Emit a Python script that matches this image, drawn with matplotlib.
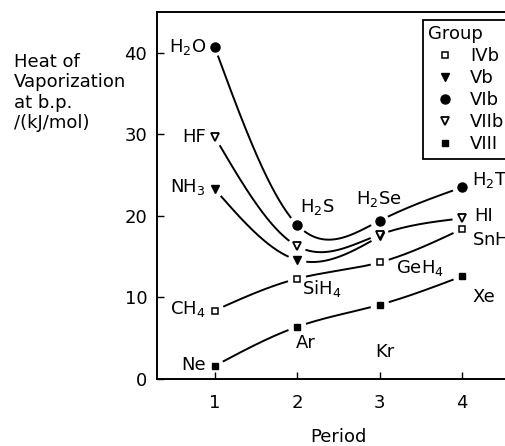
import matplotlib.pyplot as plt
import numpy as np

period = [1, 2, 3, 4]
ivb = [8.4, 12.3, 14.3, 18.4]      # CH4 SiH4 GeH4 SnH4
vb = [23.3, 14.6, 17.5]            # NH3 PH3 AsH3
vib = [40.7, 18.9, 19.4, 23.5]     # H2O H2S H2Se H2Te
viib = [29.7, 16.3, 17.7, 19.7]    # HF HCl HBr HI
viii = [1.6, 6.4, 9.1, 12.6]       # Ne Ar Kr Xe

group_names = ["IVb", "Vb", "VIb", "VIIb", "VIII"]
yticks = [0, 10, 20, 30, 40]

# compound labels: text, period, value, pixel offset, alignment
labels = [
    ("H$_2$O", 1, vib[0], -8, 0, "right", "center"),
    ("HF", 1, viib[0], -9, 0, "right", "center"),
    ("NH$_3$", 1, vb[0], -9, 2, "right", "center"),
    ("CH$_4$", 1, ivb[0], -9, 2, "right", "center"),
    ("Ne", 1, viii[0], -9, 1, "right", "center"),
    ("H$_2$S", 2, vib[1], 3, 13, "left", "baseline"),
    ("SiH$_4$", 2, ivb[1], 5, -15, "left", "baseline"),
    ("Ar", 2, viii[1], -1, -21, "left", "baseline"),
    ("H$_2$Se", 3, vib[2], -1, 17, "center", "baseline"),
    ("GeH$_4$", 3, ivb[2], 16, -11, "left", "baseline"),
    ("Kr", 3, viii[2], -4, -52, "left", "baseline"),
    ("H$_2$Te", 4, vib[3], 10, 2, "left", "baseline"),
    ("HI", 4, viib[3], 12, -3, "left", "baseline"),
    ("SnH$_4$", 4, ivb[3], 10, -16, "left", "baseline"),
    ("Xe", 4, viii[3], 10, -26, "left", "baseline"),
]


def natural_spline(x, y, n=500):
    x = np.asarray(x, float)
    y = np.asarray(y, float)
    k = len(x)
    h = np.diff(x)
    A = np.zeros((k, k))
    b = np.zeros(k)
    A[0, 0] = A[-1, -1] = 1
    for i in range(1, k - 1):
        A[i, i - 1] = h[i - 1]
        A[i, i] = 2 * (h[i - 1] + h[i])
        A[i, i + 1] = h[i]
        b[i] = 6 * ((y[i + 1] - y[i]) / h[i] - (y[i] - y[i - 1]) / h[i - 1])
    M = np.linalg.solve(A, b)
    xs = np.linspace(x[0], x[-1], n)
    j = np.clip(np.searchsorted(x, xs) - 1, 0, k - 2)
    t = (xs - x[j]) / h[j]
    ys = ((1 - t) * y[j] + t * y[j + 1]
          + ((1 - t) ** 3 - (1 - t)) * M[j] * h[j] ** 2 / 6
          + (t ** 3 - t) * M[j + 1] * h[j] ** 2 / 6)
    return xs, ys


def draw_curve(ax, x, y, gap=10):
    xs, ys = natural_spline(x, y)
    pts = ax.transData.transform(np.column_stack([xs, ys]))
    marks = ax.transData.transform(np.column_stack([x, y]))
    d = np.hypot(pts[:, None, 0] - marks[None, :, 0],
                 pts[:, None, 1] - marks[None, :, 1]).min(axis=1)
    ys = np.where(d < gap, np.nan, ys)
    ax.plot(xs, ys, color="black", lw=1.4, zorder=2)


plt.rcParams["font.size"] = 13

fig = plt.figure(figsize=(5.06, 4.46), dpi=100)
ax = fig.add_axes([0.3103, 0.1502, 0.725, 0.8229])
ax.set_xlim(0.3, 4.75)
ax.set_ylim(0, 45)

series = [
    (ivb, dict(marker="s", ms=5, mfc="white", mec="black", mew=1.1)),
    (vb, dict(marker="v", ms=5.5, mfc="black", mec="black")),
    (vib, dict(marker="o", ms=6.5, mfc="black", mec="black")),
    (viib, dict(marker="v", ms=6, mfc="white", mec="black", mew=1.3)),
    (viii, dict(marker="s", ms=5, mfc="black", mec="black")),
]

for (vals, style), name in zip(series, group_names):
    x = period[:len(vals)]
    draw_curve(ax, x, vals)
    ax.plot(x, vals, ls="none", label=name, zorder=3, **style)

for text, px, val, dx, dy, ha, va in labels:
    ax.annotate(text, (px, val), xytext=(dx, dy), textcoords="offset pixels",
                ha=ha, va=va, fontsize=13)

ax.set_xticks(period)
ax.set_yticks(yticks)
ax.tick_params(direction="in", length=5, width=1, labelsize=13)
ax.tick_params(axis="x", pad=11)
ax.tick_params(axis="y", pad=7)
for s in ax.spines.values():
    s.set_linewidth(1.4)

leg = ax.legend(title="Group", loc="upper left",
                bbox_to_anchor=(423 / 506, 1 - 20 / 446),
                bbox_transform=fig.transFigure, borderaxespad=0,
                fontsize=13, title_fontsize=13, alignment="left",
                fancybox=False, edgecolor="black", framealpha=1,
                handlelength=1.8, handletextpad=0.5, labelspacing=0.22,
                borderpad=0.3)
leg.get_frame().set_linewidth(1.3)

fig.text(14 / 506, 1 - 53 / 446, "Heat of\nVaporization\nat b.p.\n/(kJ/mol)",
         ha="left", va="top", fontsize=13, linespacing=1.17)
fig.text(338 / 506, 4 / 446, "Period", ha="center", va="baseline", fontsize=13)

fig.savefig("out.png", dpi=100)
